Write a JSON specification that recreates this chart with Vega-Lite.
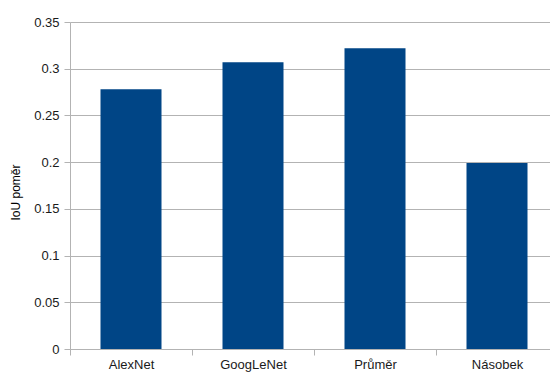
{
  "$schema": "https://vega.github.io/schema/vega-lite/v6.json",
  "autosize": "none",
  "width": 480,
  "height": 327,
  "padding": {"left": 70, "top": 22, "right": 0, "bottom": 25},
  "background": "white",
  "config": {
    "view": {"stroke": null},
    "font": "Liberation Sans",
    "axis": {
      "domainColor": "#b3b3b3",
      "tickColor": "#b3b3b3",
      "gridColor": "#b3b3b3",
      "labelColor": "#1a1a1a",
      "labelFontSize": 13,
      "labelFont": "Liberation Sans",
      "titleFont": "Liberation Sans",
      "tickSize": 6
    }
  },
  "data": {
    "values": [
      {"model": "AlexNet", "iou": 0.278},
      {"model": "GoogLeNet", "iou": 0.307},
      {"model": "Průměr", "iou": 0.322},
      {"model": "Násobek", "iou": 0.199}
    ]
  },
  "mark": {"type": "bar", "color": "#004586", "width": {"band": 0.5}},
  "encoding": {
    "x": {
      "field": "model",
      "type": "nominal",
      "sort": null,
      "scale": {"range": [0, 488], "paddingInner": 0, "paddingOuter": 0},
      "axis": {
        "title": null,
        "labelAngle": 0,
        "tickBand": "extent",
        "labelPadding": 3,
        "grid": false
      }
    },
    "y": {
      "field": "iou",
      "type": "quantitative",
      "scale": {"domain": [0, 0.35], "nice": false, "zero": true},
      "axis": {
        "title": "IoU poměr",
        "titleFontSize": 12,
        "titleFontWeight": "normal",
        "titleColor": "#000000",
        "titleX": -48,
        "titleY": 170,
        "values": [0, 0.05, 0.1, 0.15, 0.2, 0.25, 0.3, 0.35],
        "format": "~g",
        "labelPadding": 5,
        "grid": true
      }
    }
  }
}
